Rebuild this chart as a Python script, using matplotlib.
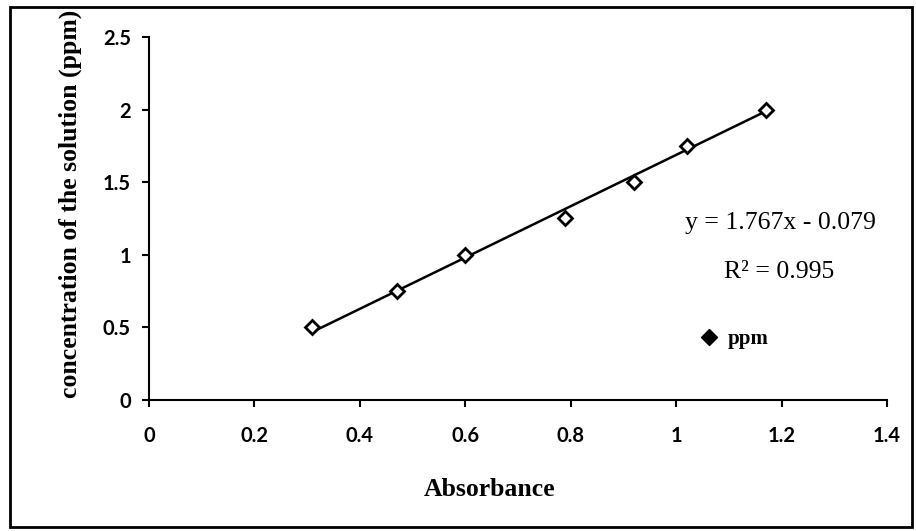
import numpy as np
import matplotlib.pyplot as plt
from matplotlib.lines import Line2D
from matplotlib.patches import Rectangle

# data
absorbance = [0.31, 0.47, 0.60, 0.79, 0.92, 1.02, 1.17]
conc_ppm = [0.50, 0.75, 1.00, 1.25, 1.50, 1.75, 2.00]
slope, intercept = 1.767, -0.079
r2_text = "R\u00b2 = 0.995"
eq_text = "y = 1.767x - 0.079"
x_ticks = [0, 0.2, 0.4, 0.6, 0.8, 1, 1.2, 1.4]
y_ticks = [0, 0.5, 1, 1.5, 2, 2.5]

serif = "Liberation Serif"
sans = "Lato"

fig = plt.figure(figsize=(9.16, 5.31), dpi=100)
ax = fig.add_axes([149/916, 1-400/531, (887-149)/916, (400-37)/531])

# trendline over the data range
xl = np.array([min(absorbance), max(absorbance)])
ax.plot(xl, slope*xl + intercept, color="black", lw=1.8, zorder=2)
ax.plot(absorbance, conc_ppm, ls="none", marker="D", ms=7.5,
        mfc="white", mec="black", mew=2, zorder=3)

ax.set_xlim(0, 1.4)
ax.set_ylim(0, 2.5)
ax.set_xticks(x_ticks)
ax.set_yticks(y_ticks)
ax.set_xticklabels([f"{v:g}" for v in x_ticks])
ax.set_yticklabels([f"{v:g}" for v in y_ticks])
for lab in ax.get_xticklabels() + ax.get_yticklabels():
    lab.set_fontfamily(sans)
    lab.set_fontweight("bold")
    lab.set_fontsize(14.5)
ax.tick_params(direction="out", length=5, width=1.5, color="black")
ax.tick_params(axis="x", pad=14)
ax.tick_params(axis="y", pad=8)
for s in ["top", "right"]:
    ax.spines[s].set_visible(False)
for s in ["left", "bottom"]:
    ax.spines[s].set_linewidth(1.5)

# axis titles
fig.text(70/916, 1-204/531, "concentration of the solution (ppm)", rotation=90,
         ha="center", va="center", fontfamily=serif, fontweight="bold", fontsize=18.5)
fig.text(490/916, 1-490/531, "Absorbance", ha="center", va="center",
         fontfamily=serif, fontweight="bold", fontsize=18.5)

# equation and R^2
fig.text(780/916, 1-223/531, eq_text, ha="center", va="center",
         fontfamily=serif, fontsize=18.5)
fig.text(779/916, 1-272/531, r2_text, ha="center", va="center",
         fontfamily=serif, fontsize=18.5)

# legend
h = Line2D([], [], ls="none", marker="D", ms=8, mfc="black", mec="black")
leg = ax.legend([h], ["ppm"], loc="center left", bbox_to_anchor=(680/916, 1-339/531),
                bbox_transform=fig.transFigure, frameon=False, handletextpad=0.4,
                handlelength=1.0, prop={"family": serif, "weight": "bold", "size": 15})

# outer frame
fig.patches.append(Rectangle((10/916, 1-527/531), 902/916, 520/531, transform=fig.transFigure,
                             fill=False, ec="black", lw=2))

fig.savefig("out.png", dpi=100)
